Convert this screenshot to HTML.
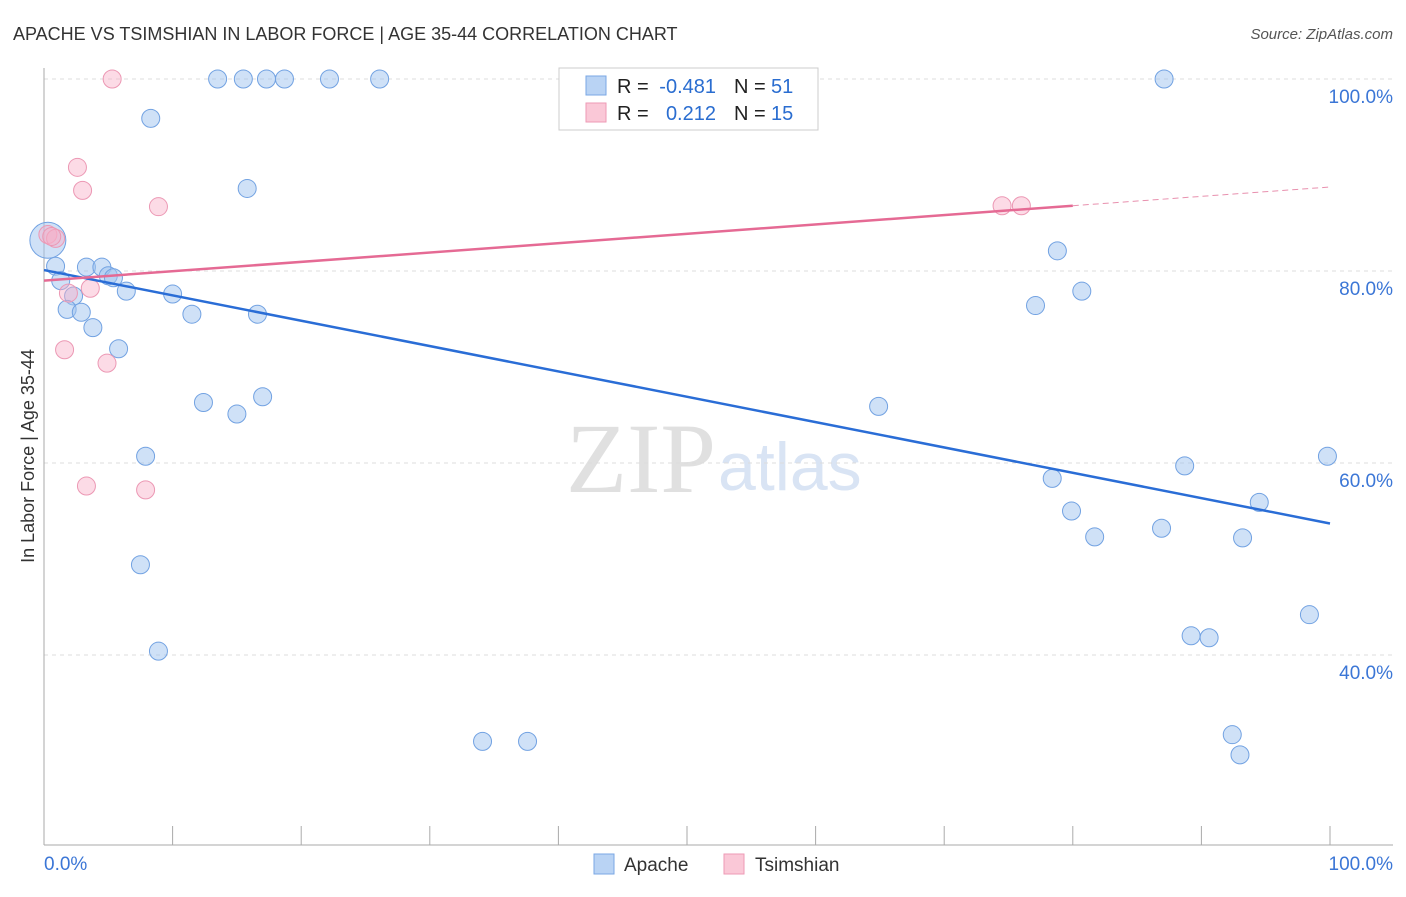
<!DOCTYPE html>
<html><head><meta charset="utf-8"><style>
body{margin:0;background:#fff;font-family:"Liberation Sans",sans-serif}
</style></head><body>
<svg id="c" width="1406" height="892" font-family="Liberation Sans, sans-serif">
<text x="13" y="40" font-size="18" fill="#333">APACHE VS TSIMSHIAN IN LABOR FORCE | AGE 35-44 CORRELATION CHART</text>
<text x="1393" y="39" font-size="15" fill="#555" font-style="italic" text-anchor="end">Source: ZipAtlas.com</text>
<text x="716" y="492" font-size="100" fill="#e0e0e0" text-anchor="end" style="font-family:'Liberation Serif',serif">ZIP</text>
<text x="718" y="490" font-size="68" fill="#d9e4f4">atlas</text>
<text transform="translate(34,456) rotate(-90)" font-size="18" fill="#333" text-anchor="middle">In Labor Force | Age 35-44</text>
<g id="grid"></g><g id="marks"></g>
<g>
<rect x="559" y="68" width="259" height="62" fill="#fff" stroke="#ccc"/>
<rect x="586" y="76" width="20" height="19" fill="#b9d3f4" stroke="#7aa7e4"/>
<rect x="586" y="103" width="20" height="19" fill="#fac8d7" stroke="#ee9ab5"/>
<text x="617" y="93" font-size="20" fill="#222">R =</text>
<text x="716" y="93" font-size="20" fill="#2a6dd0" text-anchor="end">-0.481</text>
<text x="734" y="93" font-size="20" fill="#222">N =</text>
<text x="771" y="93" font-size="20" fill="#2a6dd0">51</text>
<text x="617" y="120" font-size="20" fill="#222">R =</text>
<text x="716" y="120" font-size="20" fill="#2a6dd0" text-anchor="end">0.212</text>
<text x="734" y="120" font-size="20" fill="#222">N =</text>
<text x="771" y="120" font-size="20" fill="#2a6dd0">15</text>
</g>
<g>
<rect x="594" y="854" width="20" height="20" fill="#b9d3f4" stroke="#7aa7e4"/>
<text x="624" y="871" font-size="19" fill="#333">Apache</text>
<rect x="724" y="854" width="20" height="20" fill="#fac8d7" stroke="#ee9ab5"/>
<text x="755" y="871" font-size="19" fill="#333">Tsimshian</text>
</g>
</svg>
<script>
const yTicks=[40,60,80,100];
const xTickLabels=["0.0%","100.0%"];
const apacheX=[0.3,0.9,1.3,2.3,1.8,2.9,3.8,3.3,4.5,5.0,5.4,6.4,5.8,8.3,10.0,11.5,13.5,15.5,17.3,18.7,22.2,26.1,15.8,16.6,12.4,15.0,17.0,7.9,7.5,8.9,34.1,37.6,64.9,87.1,78.8,80.7,77.1,78.4,79.9,81.7,88.7,86.9,93.2,94.5,99.8,98.4,89.2,90.6,92.4,93.0,42.9];
const apacheY=[83.2,80.5,79.0,77.4,76.0,75.7,74.1,80.4,80.4,79.5,79.3,77.9,71.9,95.9,77.6,75.5,100,100,100,100,100,100,88.6,75.5,66.3,65.1,66.9,60.7,49.4,40.4,31.0,31.0,65.9,100,82.1,77.9,76.4,58.4,55.0,52.3,59.7,53.2,52.2,55.9,60.7,44.2,42.0,41.8,31.7,29.6,99.7];
const tsimX=[5.3,2.6,3.0,8.9,0.3,0.9,1.9,3.6,1.6,4.9,3.3,7.9,74.5,76.0,0.6];
const tsimY=[100,90.8,88.4,86.7,83.8,83.4,77.7,78.2,71.8,70.4,57.6,57.2,86.8,86.8,83.6];
const apacheTrend=[80.1,53.7];
const tsimTrend=[79.0,88.75];
const tsimSolidEnd=80;
const X=v=>44+v*12.86, Y=v=>79+(100-v)*9.6;
const NS="http://www.w3.org/2000/svg";
const grid=document.getElementById('grid'),marks=document.getElementById('marks');
function mk(p,tag,a){const e=document.createElementNS(NS,tag);for(const k in a)e.setAttribute(k,a[k]);p.appendChild(e);return e;}
yTicks.forEach(t=>{
 const l=mk(grid,'line',{x1:44,x2:1393,y1:Y(t),y2:Y(t),stroke:'#ddd','stroke-dasharray':'4,4'});
 
 
 const tx=mk(grid,'text',{x:1393,y:Y(t)+24,'font-size':19,fill:'#3b76d6','text-anchor':'end'});
 tx.textContent=t.toFixed(1)+'%';
 
 
});
mk(grid,'line',{x1:44,x2:44,y1:68,y2:845,stroke:'#aaa'});
mk(grid,'line',{x1:44,x2:1393,y1:845,y2:845,stroke:'#aaa'});
for(let i=1;i<=10;i++){const l=mk(grid,'line',{x1:X(i*10),x2:X(i*10),y1:826,y2:845,stroke:'#aaa'});
 
 }
const t0=mk(grid,'text',{x:44,y:870,'font-size':19,fill:'#3b76d6'});t0.textContent=xTickLabels[0];


const t1=mk(grid,'text',{x:1393,y:870,'font-size':19,fill:'#3b76d6','text-anchor':'end'});t1.textContent=xTickLabels[1];


apacheX.forEach((x,i)=>{const c=mk(marks,'circle',{cx:X(x),cy:Y(apacheY[i]),r:i==0?18:9,fill:'rgba(160,196,240,0.5)',stroke:'#72a2e2','stroke-width':1});
 
 });
tsimX.forEach((x,i)=>{const c=mk(marks,'circle',{cx:X(x),cy:Y(tsimY[i]),r:9,fill:'rgba(248,175,200,0.45)',stroke:'#ec98b4','stroke-width':1});
 
 });
const a=mk(marks,'line',{x1:X(0),y1:Y(apacheTrend[0]),x2:X(100),y2:Y(apacheTrend[1]),stroke:'#2a6dd6','stroke-width':2.5});


const ym=tsimTrend[0]+(tsimTrend[1]-tsimTrend[0])*tsimSolidEnd/100;
const p=mk(marks,'line',{x1:X(0),y1:Y(tsimTrend[0]),x2:X(tsimSolidEnd),y2:Y(ym),stroke:'#e56a94','stroke-width':2.5});


const pd=mk(marks,'line',{x1:X(tsimSolidEnd),y1:Y(ym),x2:X(100),y2:Y(tsimTrend[1]),stroke:'#e890ae','stroke-width':1,'stroke-dasharray':'6,4'});


</script>
</body></html>
